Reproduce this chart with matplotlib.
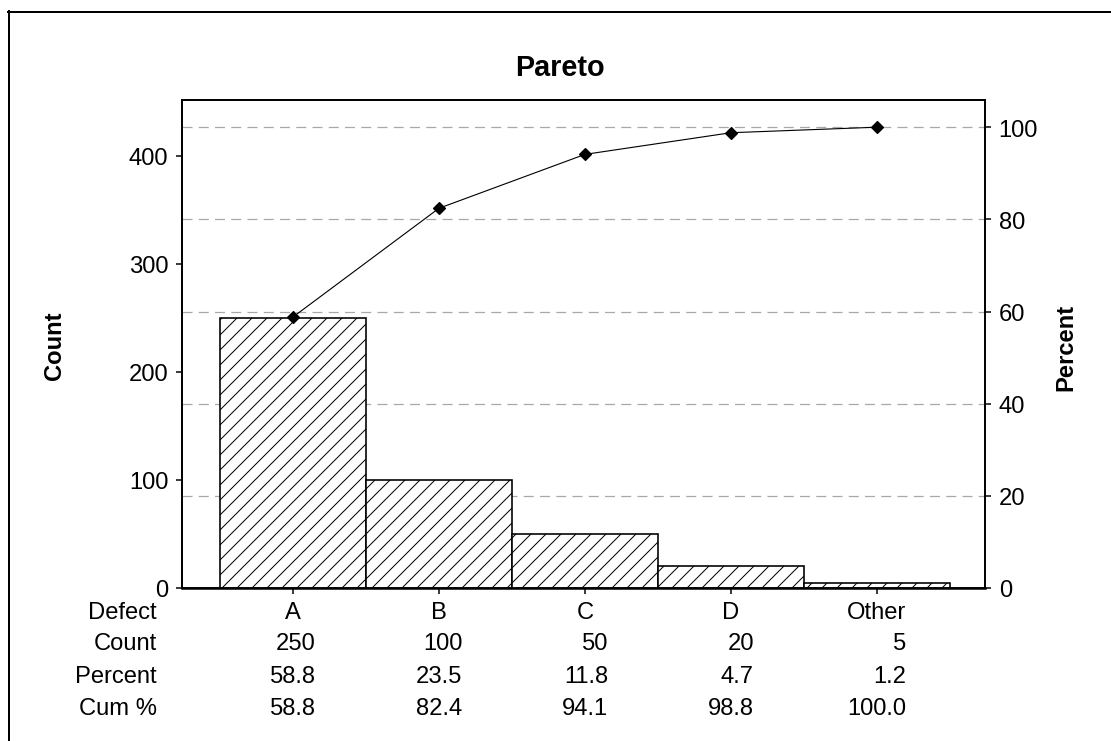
import matplotlib
matplotlib.use("Agg")
import matplotlib.pyplot as plt
from matplotlib.lines import Line2D

categories = ["A", "B", "C", "D", "Other"]
counts = [250, 100, 50, 20, 5]
percents = [58.8, 23.5, 11.8, 4.7, 1.2]
cum_percents = [58.8, 82.4, 94.1, 98.8, 100.0]
row_labels = ["Defect", "Count", "Percent", "Cum %"]
left_ticks = [0, 100, 200, 300, 400]
right_ticks = [0, 20, 40, 60, 80, 100]

W, H, DPI = 1111, 742, 90
plt.rcParams['font.family'] = ['Liberation Sans', 'DejaVu Sans']
plt.rcParams['hatch.linewidth'] = 0.8
plt.rcParams['hatch.color'] = 'black'
FS = 19

fig = plt.figure(figsize=(W / DPI, H / DPI), dpi=DPI)
fig.patch.set_facecolor('white')

def px(x, y):
    return x / W, 1 - y / H

L, R, T, B = 182, 985, 101, 589
YTOP_L, YTOP_R = 451.5, 105.9
ax = fig.add_axes([L / W, 1 - B / H, (R - L) / W, (B - T) / H])
ax2 = ax.twinx()

xpos = list(range(len(categories)))
ax.bar(xpos, counts, width=1.0, color='white', edgecolor='black',
       linewidth=1.3, hatch='//', zorder=2)
ax.set_xlim(-0.76, 4.74)
ax.set_ylim(0, YTOP_L)
ax2.set_ylim(0, YTOP_R)

for v in right_ticks[1:]:
    ax2.axhline(v, color='#a8a8a8', linewidth=1.0, linestyle=(0, (8, 5)), zorder=0)

ax.set_yticks(left_ticks)
ax.set_yticklabels([str(v) for v in left_ticks])
ax2.set_yticks(right_ticks)
ax2.set_yticklabels([str(v) for v in right_ticks])
ax.set_xticks(xpos)
ax.set_xticklabels([])
for a in (ax, ax2):
    a.tick_params(direction='out', length=5, width=1.2, labelsize=FS, pad=6, colors='black')
    for s in a.spines.values():
        s.set_linewidth(1.4)
ax.spines['bottom'].set_linewidth(2.0)
ax2.set_zorder(0)
ax.set_zorder(1)
ax.patch.set_visible(False)

# cumulative percent line drawn on the count axis, scaled to the percent axis
ax.plot(xpos, [c * YTOP_L / YTOP_R for c in cum_percents], color='black',
        linewidth=0.9, marker='D', markersize=6.5, zorder=5, clip_on=False)

fig.text(*px(560, 68), "Pareto", ha='center', va='center', fontsize=23, fontweight='bold')
fig.text(*px(55, 346), "Count", ha='center', va='center', rotation=90,
         fontsize=FS, fontweight='bold')
fig.text(*px(1066, 347), "Percent", ha='center', va='center', rotation=90,
         fontsize=FS, fontweight='bold')

# table below
row_y = [613, 644, 677, 709]
for lab, y in zip(row_labels, row_y):
    fig.text(*px(157, y), lab, ha='right', va='center', fontsize=FS)

renderer = fig.canvas.get_renderer()
for i, cat in enumerate(categories):
    vals = [str(counts[i]), f"{percents[i]:.1f}", f"{cum_percents[i]:.1f}"]
    widths = []
    for s in vals + [cat]:
        t = fig.text(0, 0, s, fontsize=FS)
        widths.append(t.get_window_extent(renderer).width)
        t.remove()
    half = max(widths) / 2
    cx_px = ax.transData.transform((i, 0))[0]
    fig.text(cx_px / W, 1 - row_y[0] / H, cat, ha='center', va='center', fontsize=FS)
    for s, y in zip(vals, row_y[1:]):
        fig.text((cx_px + half) / W, 1 - y / H, s, ha='right', va='center', fontsize=FS)

# outer frame (left and top edges)
fig.add_artist(Line2D([8.5 / W, 8.5 / W], [0, 1 - 12 / H], transform=fig.transFigure,
                      color='black', linewidth=1.6))
fig.add_artist(Line2D([8 / W, 1], [1 - 12.5 / H, 1 - 12.5 / H], transform=fig.transFigure,
                      color='black', linewidth=1.6))

fig.savefig("out.png", dpi=DPI, facecolor='white')
